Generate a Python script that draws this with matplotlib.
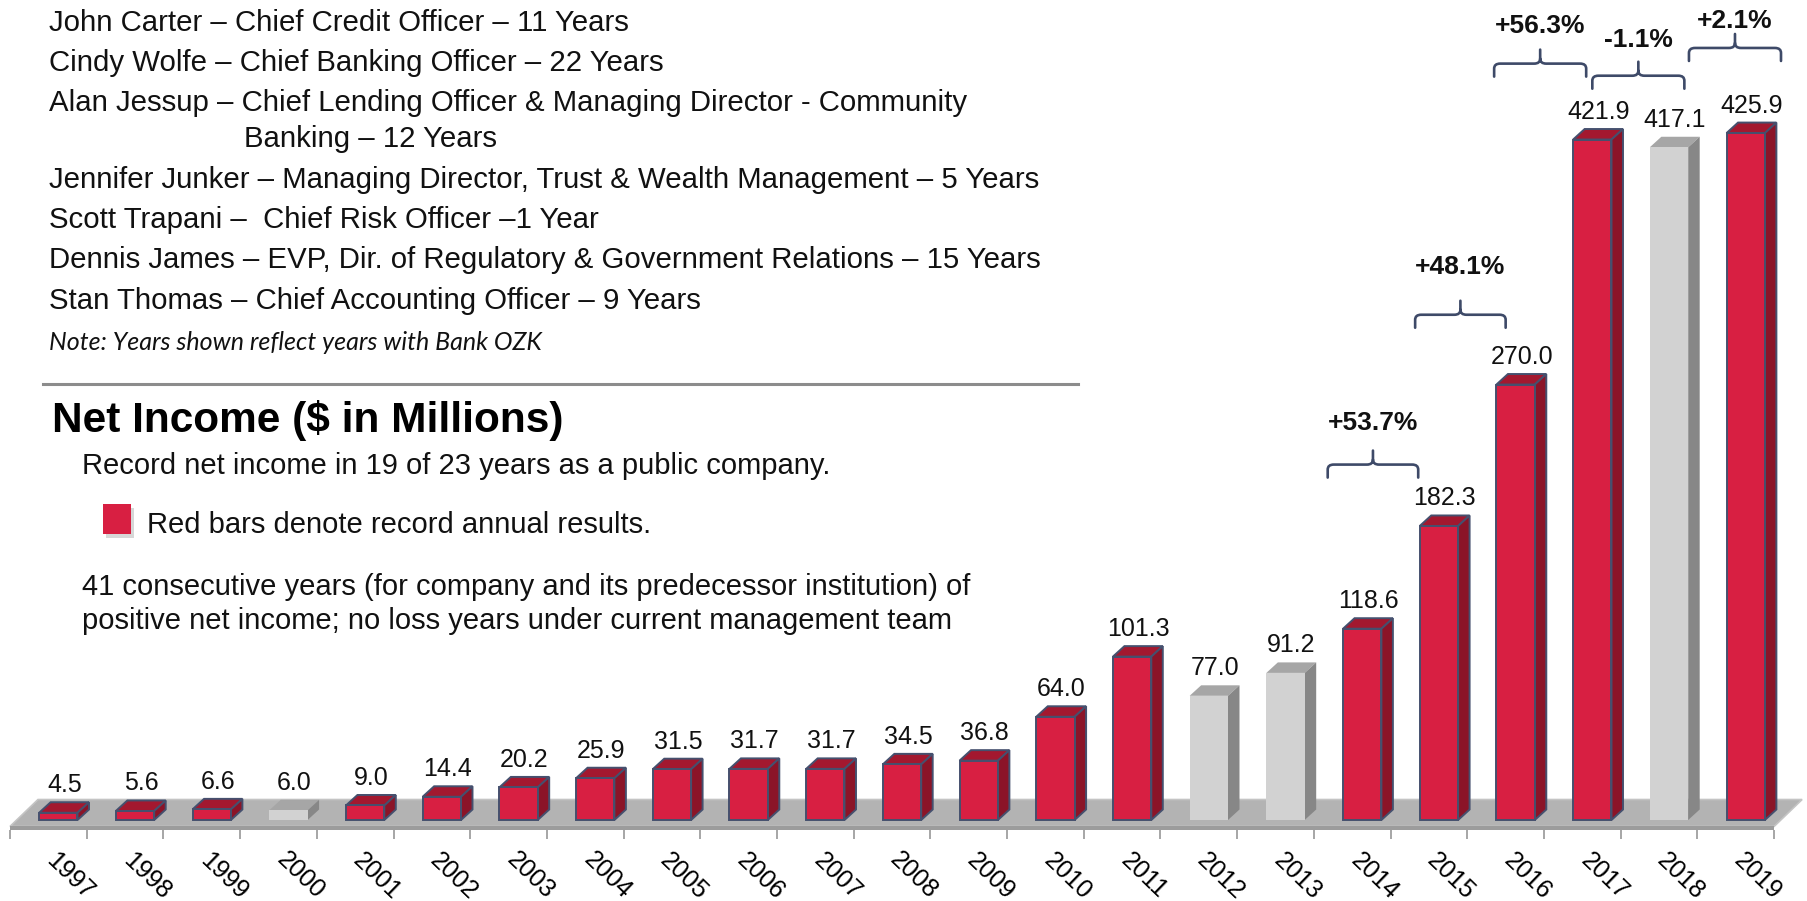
import numpy as np
import matplotlib.pyplot as plt
from matplotlib.patches import Polygon, Rectangle, PathPatch
from matplotlib.path import Path
from matplotlib.transforms import ScaledTranslation

plt.rcParams['font.family'] = ['Liberation Sans', 'DejaVu Sans']

years = ['1997', '1998', '1999', '2000', '2001', '2002', '2003', '2004',
         '2005', '2006', '2007', '2008', '2009', '2010', '2011', '2012',
         '2013', '2014', '2015', '2016', '2017', '2018', '2019']
net_income = [4.5, 5.6, 6.6, 6.0, 9.0, 14.4, 20.2, 25.9, 31.5, 31.7, 31.7,
              34.5, 36.8, 64.0, 101.3, 77.0, 91.2, 118.6, 182.3, 270.0,
              421.9, 417.1, 425.9]
is_record = [1, 1, 1, 0, 1, 1, 1, 1, 1, 1, 1, 1, 1, 1, 1, 0, 0, 1, 1, 1, 1, 0, 1]

# growth callouts (label, slot span, height of brace foot, label height)
pct_labels = ['+53.7%', '+48.1%', '+56.3%', '-1.1%', '+2.1%']
brace_from = [16.68, 17.82, 18.85, 20.13, 21.39]
brace_to = [17.86, 19.00, 20.05, 21.33, 22.59]
brace_foot = [212.3, 305.2, 460.9, 453.4, 470.6]
pct_label_y = [246.0, 342.8, 492.2, 483.6, 495.4]

officers = [
    'John Carter \u2013 Chief Credit Officer \u2013 11 Years',
    'Cindy Wolfe \u2013 Chief Banking Officer \u2013 22 Years',
    'Alan Jessup \u2013 Chief Lending Officer & Managing Director - Community',
    'Banking \u2013 12 Years',
    'Jennifer Junker \u2013 Managing Director, Trust & Wealth Management \u2013 5 Years',
    'Scott Trapani \u2013  Chief Risk Officer \u20131 Year',
    'Dennis James \u2013 EVP, Dir. of Regulatory & Government Relations \u2013 15 Years',
    'Stan Thomas \u2013 Chief Accounting Officer \u2013 9 Years',
]
officer_x = [49, 49, 49, 244, 49, 49, 49, 49]
officer_base = [31, 71, 111, 147, 188, 228, 268, 309]

W, H = 1808, 901
fig = plt.figure(figsize=(W / 100, H / 100), dpi=100)

def fx(p):
    return p / W

def fy(p):
    return 1 - p / H

# chart axes: bottom edge sits on the floor front, top at figure top
ax = fig.add_axes([0, fy(830), 1, 830 / H])
ax.set_xlim(-0.6304, 22.942)
ax.set_ylim(-6.2, 508.4)
sx = (22.942 + 0.6304) / W      # slot units per pixel
sy = (508.4 + 6.2) / 830        # value units per pixel
ax.patch.set_alpha(0)
for s in ax.spines.values():
    s.set_visible(False)
ax.tick_params(axis='y', which='both', left=False, labelleft=False)

n = len(net_income)
x = np.arange(n)

# floor slab
floor_back = 12.7
floor_front = -4.0
ax.add_patch(Polygon([(-0.5, floor_front), (n - 0.5, floor_front),
                      (n - 0.5 + 28 * sx, floor_back), (-0.5 + 28 * sx, floor_back)],
                     closed=True, fc='#b3b3b3', ec='#c4c4c4', lw=1.2, zorder=1))
ax.add_patch(Rectangle((-0.5, -6.2), n, floor_front + 6.2, fc='#9c9c9c', ec='none', zorder=1))

# 3D-look bars
off = 0.13
bw = 0.5
ddx = 11.5 * sx
ddy = 10.5 * sy
red = ('#d81f42', '#a3182f', '#8b1428', '#45506e')
gray = ('#d2d2d2', '#a6a6a6', '#878787', 'none')
fronts, edges = [], []
for i, v in enumerate(net_income):
    c = red if is_record[i] else gray
    fronts.append(c[0])
    edges.append(c[3])
    l = x[i] + off - bw / 2
    r = x[i] + off + bw / 2
    ax.add_patch(Polygon([(l, v), (r, v), (r + ddx, v + ddy), (l + ddx, v + ddy)],
                         closed=True, fc=c[1], ec=c[3], lw=1.4, zorder=2))
    ax.add_patch(Polygon([(r, 0), (r + ddx, ddy), (r + ddx, v + ddy), (r, v)],
                         closed=True, fc=c[2], ec=c[3], lw=1.4, zorder=2))
ax.bar(x + off, net_income, width=bw, color=fronts, edgecolor=edges, linewidth=1.4, zorder=3)

for i, v in enumerate(net_income):
    ax.annotate(f'{v:.1f}', xy=(x[i] + off + 6 * sx, v + ddy), xytext=(0, 10),
                textcoords='offset pixels', ha='center', va='baseline',
                fontsize=18, color='#111111', zorder=4)

# ticks between bars, year labels under each bar
ax.set_xticks(x, labels=years)
ax.set_xticks(np.append(x - 0.5, n - 0.5), minor=True)
ax.tick_params(axis='x', which='minor', length=6.5, width=1.4, color='#a6a6a6')
ax.tick_params(axis='x', which='major', length=0, pad=33, labelsize=18, labelrotation=-44)
for lbl in ax.get_xticklabels():
    lbl.set_rotation_mode('anchor')
    lbl.set_ha('center')
    lbl.set_va('center')
    lbl.set_transform(lbl.get_transform() + ScaledTranslation(0.22, 0, fig.dpi_scale_trans))

# growth braces
def brace(x0, x1, y0, h=27):
    xm = (x0 + x1) / 2
    ymid = y0 + 13 * sy
    ytip = y0 + h * sy
    r = 6 * sx
    k = 5 * sy
    verts = [(x0, y0), (x0, ymid - k), (x0, ymid), (x0 + r, ymid), (xm - r, ymid),
             (xm, ymid), (xm, ymid + k), (xm, ytip),
             (x1, y0), (x1, ymid - k), (x1, ymid), (x1 - r, ymid), (xm + r, ymid),
             (xm, ymid), (xm, ymid + k)]
    codes = [Path.MOVETO, Path.LINETO, Path.CURVE3, Path.CURVE3, Path.LINETO,
             Path.CURVE3, Path.CURVE3, Path.LINETO,
             Path.MOVETO, Path.LINETO, Path.CURVE3, Path.CURVE3, Path.LINETO,
             Path.CURVE3, Path.CURVE3]
    ax.add_patch(PathPatch(Path(verts, codes), fc='none', ec='#3e4a68', lw=1.9,
                           capstyle='round', zorder=4))
    return xm

for lab, a, b, yb, yl in zip(pct_labels, brace_from, brace_to, brace_foot, pct_label_y):
    xm = brace(a, b, yb)
    ax.text(xm, yl, lab, ha='center', va='center', fontsize=19, fontweight='bold',
            color='#111111', zorder=4)

# left text block
for t, px, py in zip(officers, officer_x, officer_base):
    fig.text(fx(px), fy(py), t, fontsize=21.2, va='baseline', ha='left', color='#111111')
fig.text(fx(49), fy(350), 'Note: Years shown reflect years with Bank OZK',
         family=['Lato', 'DejaVu Sans'], style='italic', fontsize=18,
         va='baseline', color='#111111')

fig.add_artist(plt.Line2D([fx(43), fx(1078)], [fy(384), fy(384)], color='#8c8c8c', lw=2.2))

fig.text(fx(52), fy(432), 'Net Income ($ in Millions)', fontsize=30.5, fontweight='bold',
         va='baseline', color='#000000')
fig.text(fx(82), fy(474), 'Record net income in 19 of 23 years as a public company.',
         fontsize=21, va='baseline', color='#111111')

fig.add_artist(Rectangle((fx(106), fy(538)), 28 / W, 30 / H, transform=fig.transFigure,
                         fc='#bdbdbd', ec='none', alpha=0.6))
fig.add_artist(Rectangle((fx(103), fy(534)), 28 / W, 30 / H, transform=fig.transFigure,
                         fc='#d81f42', ec='none'))
fig.text(fx(147), fy(533), 'Red bars denote record annual results.', fontsize=21,
         va='baseline', color='#111111')
fig.text(fx(82), fy(595), '41 consecutive years (for company and its predecessor institution) of',
         fontsize=21, va='baseline', color='#111111')
fig.text(fx(82), fy(629), 'positive net income; no loss years under current management team',
         fontsize=21, va='baseline', color='#111111')

fig.savefig('out.png', dpi=100, facecolor='white')
plt.close()
